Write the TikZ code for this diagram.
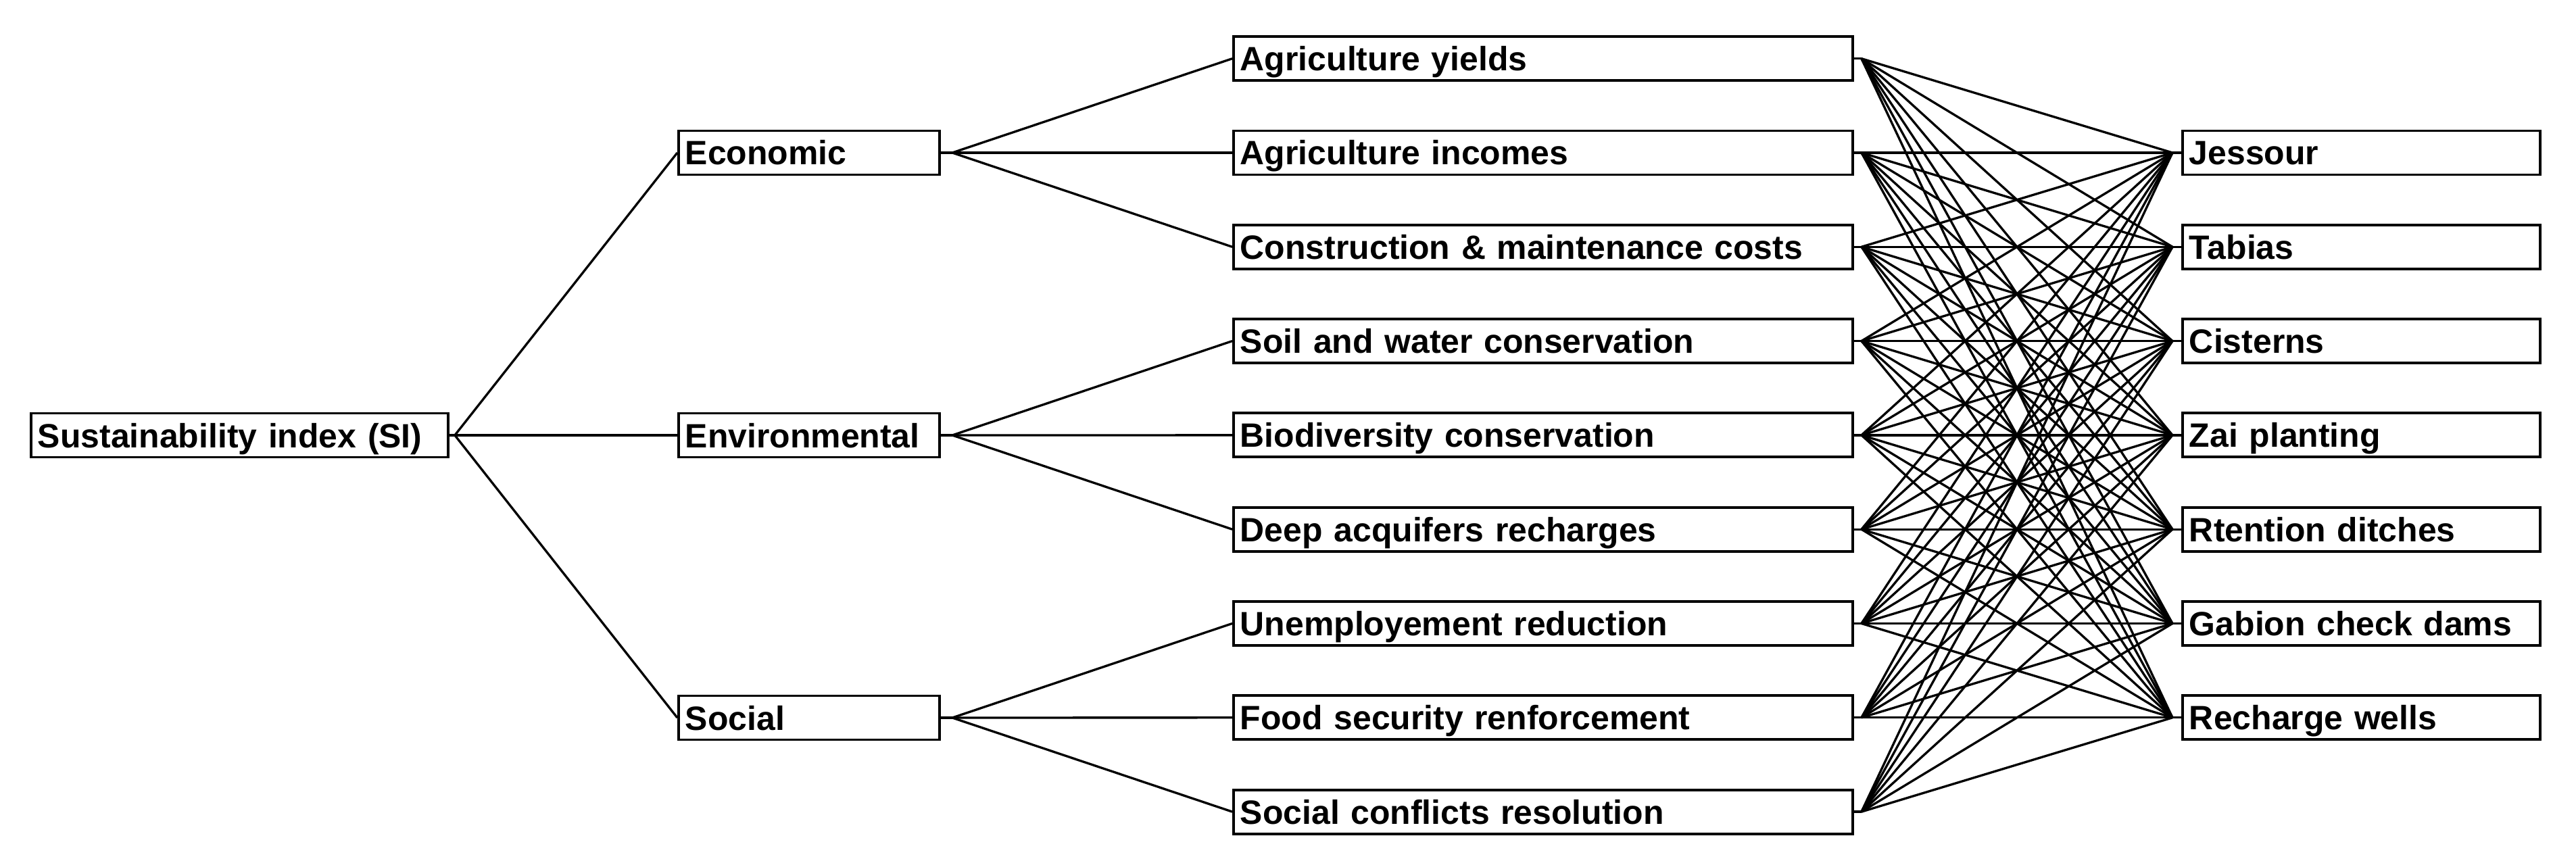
\documentclass[tikz,border=0pt]{standalone}
\usepackage{fontspec}
\setmainfont{Liberation Sans}
\begin{document}
\begin{tikzpicture}[
  x=1cm,y=1cm,
  box/.style={draw, line width=1.1pt, fill=white, anchor=west, align=left,
    minimum height=0.65cm, inner xsep=0.1cm, inner ysep=0pt,
    text height=0.36cm, text depth=0cm,
    font=\bfseries\fontsize{14.2}{16}\selectfont},
  sibox/.style={box, text width=5.97cm},
  critbox/.style={box, text width=3.66cm},
  subbox/.style={box, text width=8.96cm},
  techbox/.style={box, text width=5.09cm},
  link/.style={line width=0.95pt}
]
\useasboundingbox (0,0) rectangle (38.11,-12.71);

% nodes
\node[sibox] (si) at (0.44,-6.44) {Sustainability index (SI)};
\node[critbox] (eco) at (10.02,-2.26) {Economic};
\node[critbox] (env) at (10.02,-6.44) {Environmental};
\node[critbox] (soc) at (10.02,-10.62) {Social};

\node[subbox] (m1) at (18.23,-0.867) {Agriculture yields};
\node[subbox] (m2) at (18.23,-2.260) {Agriculture incomes};
\node[subbox] (m3) at (18.23,-3.653) {Construction \& maintenance costs};
\node[subbox] (m4) at (18.23,-5.046) {Soil and water conservation};
\node[subbox] (m5) at (18.23,-6.439) {Biodiversity conservation};
\node[subbox] (m6) at (18.23,-7.832) {Deep acquifers recharges};
\node[subbox] (m7) at (18.23,-9.225) {Unemployement reduction};
\node[subbox] (m8) at (18.23,-10.618) {Food security renforcement};
\node[subbox] (m9) at (18.23,-12.011) {Social conflicts resolution};

\node[techbox] (r1) at (32.27,-2.260) {Jessour};
\node[techbox] (r2) at (32.27,-3.653) {Tabias};
\node[techbox] (r3) at (32.27,-5.046) {Cisterns};
\node[techbox] (r4) at (32.27,-6.439) {Zai planting};
\node[techbox] (r5) at (32.27,-7.832) {Rtention ditches};
\node[techbox] (r6) at (32.27,-9.225) {Gabion check dams};
\node[techbox] (r7) at (32.27,-10.618) {Recharge wells};

% junction coordinates
\coordinate (sio) at ([xshift=0.08cm]si.east);
\coordinate (ecoo) at ([xshift=0.17cm]eco.east);
\coordinate (envo) at ([xshift=0.17cm]env.east);
\coordinate (soco) at ([xshift=0.17cm]soc.east);
\foreach \i in {1,...,9}{\coordinate (mo\i) at ([xshift=0.11cm]m\i.east);}
\foreach \j in {1,...,7}{\coordinate (ri\j) at ([xshift=-0.13cm]r\j.west);}

% connectors
\draw[link] (si.east) -- (sio);
\foreach \c in {eco,env,soc}{\draw[link] (sio) -- (\c.west);}
\foreach \c in {eco,env,soc}{\draw[link] (\c.east) -- (\c o);}
\foreach \m in {1,2,3}{\draw[link] (ecoo) -- (m\m.west);}
\foreach \m in {4,5,6}{\draw[link] (envo) -- (m\m.west);}
\foreach \m in {7,8,9}{\draw[link] (soco) -- (m\m.west);}
\foreach \i in {1,...,9}{\draw[link] (m\i.east) -- (mo\i);}
\foreach \j in {1,...,7}{\draw[link] (ri\j) -- (r\j.west);}
\foreach \i in {1,...,9}{
  \foreach \j in {1,...,7}{
    \draw[link] (mo\i) -- (ri\j);
  }
}
\end{tikzpicture}
\end{document}
